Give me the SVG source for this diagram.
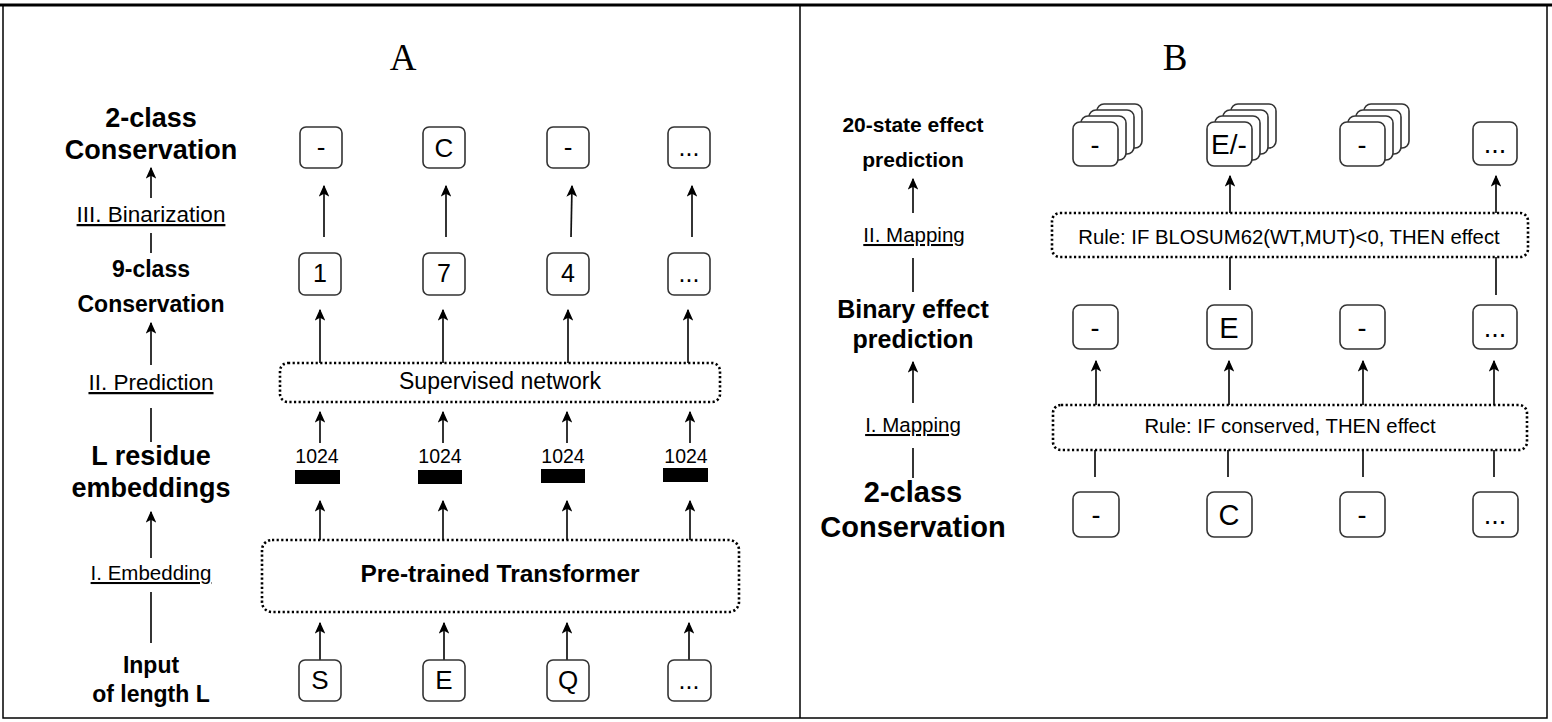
<svg xmlns="http://www.w3.org/2000/svg" width="1552" height="722" viewBox="0 0 1552 722">
<defs>
<marker id="ah" viewBox="0 0 10 9" refX="9" refY="4.5" markerWidth="12" markerHeight="10.8" markerUnits="userSpaceOnUse" orient="auto">
<path d="M0,0 L10,4.5 L0,9 L2.5,4.5 Z" fill="#000"/>
</marker>
<style>
.box{fill:#fff;stroke:#333;stroke-width:1.6}
.dot{fill:none;stroke:#000;stroke-width:2.6;stroke-dasharray:2.2 2.4}
.c{stroke:#111;stroke-width:1.7;fill:none}
.a{marker-end:url(#ah)}
.t{font-family:"Liberation Sans",Arial,sans-serif;text-anchor:middle;fill:#000}
.b{font-weight:bold}
.u{text-decoration:underline}
.ttl{font-family:"Liberation Serif","Times New Roman",serif;font-size:37px;text-anchor:middle;fill:#000}
</style>
</defs>
<rect width="1552" height="722" fill="#fff"/>
<g id="frame">
<rect x="3" y="5" width="1544" height="713" fill="none" stroke="#000" stroke-width="1.5"/>
<line x1="0" y1="5" x2="1552" y2="5" stroke="#000" stroke-width="3"/>
<line x1="800" y1="5" x2="800" y2="718" stroke="#000" stroke-width="1.5"/>
</g>
<text class="ttl" x="403" y="70">A</text>
<text class="ttl" x="1175" y="70">B</text>

<g id="labelsA">
<text class="t b" x="151" y="127" font-size="27">2-class</text>
<text class="t b" x="151" y="159" font-size="27">Conservation</text>
<text class="t u" x="151" y="222" font-size="22.5">III. Binarization</text>
<text class="t b" x="151" y="277" font-size="23">9-class</text>
<text class="t b" x="151" y="312" font-size="23">Conservation</text>
<text class="t u" x="151" y="390" font-size="22.5">II. Prediction</text>
<text class="t b" x="151" y="465" font-size="27">L residue</text>
<text class="t b" x="151" y="497" font-size="27">embeddings</text>
<text class="t u" x="151" y="580" font-size="20.5">I. Embedding</text>
<text class="t b" x="151" y="673" font-size="23">Input</text>
<text class="t b" x="151" y="702" font-size="23">of length L</text>
</g>

<g id="labelsB">
<text class="t b" x="913" y="132" font-size="21">20-state effect</text>
<text class="t b" x="913" y="167" font-size="21">prediction</text>
<text class="t u" x="914" y="242" font-size="20.5">II. Mapping</text>
<text class="t b" x="913" y="318" font-size="25">Binary effect</text>
<text class="t b" x="913" y="348" font-size="25">prediction</text>
<text class="t u" x="913" y="432" font-size="20.5">I. Mapping</text>
<text class="t b" x="913" y="502" font-size="29">2-class</text>
<text class="t b" x="913" y="537" font-size="29">Conservation</text>
</g>

<g id="connectors">
<line class="c a" x1="151" y1="198" x2="151" y2="168"/>
<line class="c" x1="151" y1="233" x2="151" y2="253"/>
<line class="c a" x1="151" y1="365" x2="151" y2="323"/>
<line class="c" x1="151" y1="408" x2="151" y2="442"/>
<line class="c a" x1="151" y1="558" x2="151" y2="512"/>
<line class="c" x1="151" y1="592" x2="151" y2="643"/>

<line class="c a" x1="324" y1="237" x2="324" y2="186"/>
<line class="c a" x1="446" y1="237" x2="446" y2="186"/>
<line class="c a" x1="571" y1="237" x2="572" y2="186"/>
<line class="c a" x1="692" y1="237" x2="692" y2="186"/>

<line class="c a" x1="320" y1="363" x2="320" y2="310"/>
<line class="c a" x1="443" y1="363" x2="443" y2="310"/>
<line class="c a" x1="568" y1="363" x2="568" y2="310"/>
<line class="c a" x1="688" y1="363" x2="688" y2="310"/>

<line class="c a" x1="320" y1="443" x2="320" y2="412"/>
<line class="c a" x1="443" y1="443" x2="443" y2="412"/>
<line class="c a" x1="567" y1="443" x2="567" y2="412"/>
<line class="c a" x1="690" y1="443" x2="690" y2="412"/>

<line class="c a" x1="320" y1="540" x2="320" y2="501"/>
<line class="c a" x1="443" y1="540" x2="443" y2="501"/>
<line class="c a" x1="567" y1="540" x2="567" y2="501"/>
<line class="c a" x1="690" y1="540" x2="690" y2="501"/>

<line class="c a" x1="320" y1="660" x2="320" y2="623"/>
<line class="c a" x1="444" y1="660" x2="444" y2="623"/>
<line class="c a" x1="567" y1="660" x2="567" y2="623"/>
<line class="c a" x1="689" y1="660" x2="689" y2="623"/>

<line class="c a" x1="913" y1="213" x2="913" y2="179"/>
<line class="c" x1="913" y1="258" x2="913" y2="292"/>
<line class="c a" x1="913" y1="403" x2="913" y2="362"/>
<line class="c" x1="913" y1="448" x2="913" y2="478"/>

<line class="c a" x1="1096" y1="405" x2="1096" y2="361"/>
<line class="c a" x1="1229" y1="405" x2="1229" y2="361"/>
<line class="c a" x1="1363" y1="405" x2="1363" y2="361"/>
<line class="c a" x1="1494" y1="405" x2="1494" y2="361"/>

<line class="c" x1="1095" y1="477" x2="1095" y2="450"/>
<line class="c" x1="1228" y1="477" x2="1228" y2="450"/>
<line class="c" x1="1363" y1="477" x2="1363" y2="450"/>
<line class="c" x1="1494" y1="477" x2="1494" y2="450"/>

<line class="c" x1="1230" y1="290" x2="1230" y2="257"/>
<line class="c" x1="1496" y1="295" x2="1496" y2="257"/>
<line class="c a" x1="1230" y1="213" x2="1230" y2="176"/>
<line class="c a" x1="1496" y1="213" x2="1496" y2="176"/>
</g>

<g id="A-row1">
<rect class="box" x="300" y="127" width="42" height="41" rx="6"/><text class="t" x="321" y="156" font-size="26">-</text>
<rect class="box" x="423" y="127" width="42" height="41" rx="6"/><text class="t" x="444" y="157" font-size="26">C</text>
<rect class="box" x="547" y="127" width="42" height="41" rx="6"/><text class="t" x="568" y="156" font-size="26">-</text>
<rect class="box" x="668" y="127" width="42" height="41" rx="6"/><text class="t" x="689" y="156" font-size="25">...</text>
</g>
<g id="A-row2">
<rect class="box" x="299" y="253" width="42" height="42" rx="6"/><text class="t" x="320" y="282" font-size="25">1</text>
<rect class="box" x="423" y="253" width="42" height="42" rx="6"/><text class="t" x="444" y="282" font-size="25">7</text>
<rect class="box" x="547" y="253" width="42" height="42" rx="6"/><text class="t" x="568" y="282" font-size="25">4</text>
<rect class="box" x="668" y="253" width="42" height="42" rx="6"/><text class="t" x="689" y="282" font-size="25">...</text>
</g>
<g id="supervised">
<rect class="dot" x="280" y="363" width="440" height="39" rx="8"/>
<text class="t" x="500" y="389" font-size="23">Supervised network</text>
</g>
<g id="embeddings">
<text class="t" x="317" y="463" font-size="19.5">1024</text>
<text class="t" x="440" y="463" font-size="19.5">1024</text>
<text class="t" x="563" y="463" font-size="19.5">1024</text>
<text class="t" x="686" y="463" font-size="19.5">1024</text>
<rect x="295" y="470" width="45" height="14" fill="#000"/>
<rect x="418" y="470" width="44" height="14" fill="#000"/>
<rect x="541" y="469" width="44" height="14" fill="#000"/>
<rect x="663" y="468" width="45" height="14" fill="#000"/>
</g>
<g id="transformer">
<rect class="dot" x="262" y="540" width="477" height="72" rx="10"/>
<text class="t b" x="500" y="582" font-size="24.5">Pre-trained Transformer</text>
</g>
<g id="A-input">
<rect class="box" x="299" y="660" width="42" height="41" rx="6"/><text class="t" x="320" y="689" font-size="26">S</text>
<rect class="box" x="423" y="660" width="42" height="41" rx="6"/><text class="t" x="444" y="689" font-size="26">E</text>
<rect class="box" x="547" y="660" width="42" height="41" rx="6"/><text class="t" x="568" y="689" font-size="26">Q</text>
<rect class="box" x="668" y="660" width="43" height="41" rx="6"/><text class="t" x="689" y="689" font-size="25">...</text>
</g>

<g id="B-top">
<g id="stack1">
<rect class="box" x="1097" y="104" width="45" height="44" rx="7"/>
<rect class="box" x="1089" y="110" width="45" height="44" rx="7"/>
<rect class="box" x="1081" y="116" width="45" height="44" rx="7"/>
<rect class="box" x="1073" y="122" width="45" height="44" rx="7"/>
<text class="t" x="1095" y="154" font-size="27">-</text>
</g>
<g id="stack2">
<rect class="box" x="1231" y="104" width="45" height="44" rx="7"/>
<rect class="box" x="1223" y="110" width="45" height="44" rx="7"/>
<rect class="box" x="1215" y="116" width="45" height="44" rx="7"/>
<rect class="box" x="1207" y="122" width="45" height="44" rx="7"/>
<text class="t" x="1229" y="154" font-size="28">E/-</text>
</g>
<g id="stack3">
<rect class="box" x="1364" y="104" width="45" height="44" rx="7"/>
<rect class="box" x="1356" y="110" width="45" height="44" rx="7"/>
<rect class="box" x="1348" y="116" width="45" height="44" rx="7"/>
<rect class="box" x="1340" y="122" width="45" height="44" rx="7"/>
<text class="t" x="1362" y="154" font-size="27">-</text>
</g>
<g id="top4">
<rect class="box" x="1473" y="122" width="44" height="43" rx="7"/>
<text class="t" x="1495" y="153" font-size="27">...</text>
</g>
</g>
<g id="rule2">
<rect class="dot" x="1052" y="213" width="476" height="44" rx="8"/>
<text class="t" x="1289" y="244" font-size="20.3">Rule: IF BLOSUM62(WT,MUT)&lt;0, THEN effect</text>
</g>
<g id="B-mid">
<rect class="box" x="1073" y="305" width="45" height="44" rx="7"/><text class="t" x="1095" y="337" font-size="27">-</text>
<rect class="box" x="1207" y="305" width="45" height="44" rx="7"/><text class="t" x="1229" y="338" font-size="29">E</text>
<rect class="box" x="1340" y="305" width="45" height="44" rx="7"/><text class="t" x="1362" y="337" font-size="27">-</text>
<rect class="box" x="1473" y="305" width="44" height="44" rx="7"/><text class="t" x="1495" y="337" font-size="27">...</text>
</g>
<g id="rule1">
<rect class="dot" x="1053" y="405" width="474" height="45" rx="8"/>
<text class="t" x="1290" y="433" font-size="20.3">Rule: IF conserved, THEN effect</text>
</g>
<g id="B-bottom">
<rect class="box" x="1073" y="492" width="46" height="45" rx="7"/><text class="t" x="1096" y="524" font-size="27">-</text>
<rect class="box" x="1207" y="492" width="45" height="45" rx="7"/><text class="t" x="1229" y="525" font-size="29">C</text>
<rect class="box" x="1340" y="492" width="45" height="45" rx="7"/><text class="t" x="1362" y="524" font-size="27">-</text>
<rect class="box" x="1473" y="492" width="45" height="45" rx="7"/><text class="t" x="1495" y="524" font-size="27">...</text>
</g>
</svg>
